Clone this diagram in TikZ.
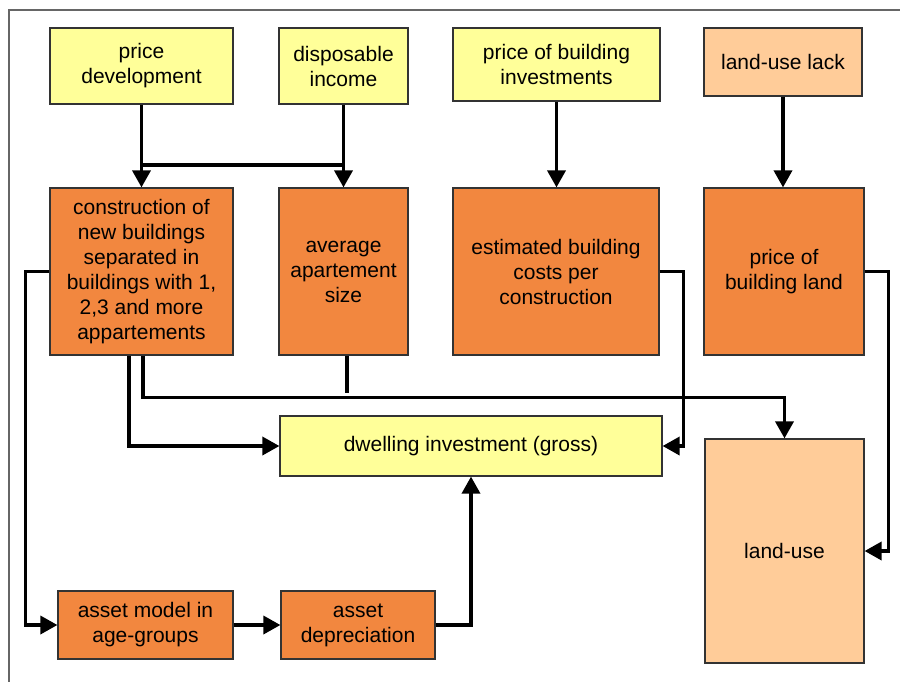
\documentclass[tikz,border=0pt]{standalone}
\usepackage{fontspec}
\setmainfont{Liberation Sans}
\usetikzlibrary{arrows.meta}

\definecolor{inp} {RGB}{255,255,153}
\definecolor{mdl} {RGB}{242,135,63}
\definecolor{lnd} {RGB}{255,204,153}

\tikzset{
  box/.style={draw=black!80,line width=1.2pt,inner sep=0pt,align=center,
    font=\fontsize{21}{25}\selectfont},
  link/.style={line width=3.5pt},
  arr/.style={link,-{Triangle[length=17pt,width=18pt]}}
}

\begin{document}
\begin{tikzpicture}[x=1pt,y=-1pt]

    \useasboundingbox (0,0) rectangle (900,681);
    \draw[black!60,line width=1.5pt] (9,10) rectangle (910,700);

    \node[box,fill=inp,minimum width=183,minimum height=76] (pd) at (141.5,66) {price\\development};
    \node[box,fill=inp,minimum width=129,minimum height=76] (di) at (343.5,66) {disposable\\income};
    \node[box,fill=inp,minimum width=207,minimum height=73] (pbi) at (556.5,64.5) {price of building\\investments};
    \node[box,fill=lnd,minimum width=158,minimum height=68] (lul) at (783,62) {land-use lack};

    \node[box,fill=mdl,minimum width=183,minimum height=167] (cons) at (141.5,271.5) {construction of\\new buildings\\separated in\\buildings with 1,\\2,3 and more\\appartements};
    \node[box,fill=mdl,minimum width=129,minimum height=167] (avg) at (343.5,271.5) {average\\apartement\\size};
    \node[box,fill=mdl,minimum width=206,minimum height=167] (est) at (556,271.5) {estimated building\\costs per\\construction};
    \node[box,fill=mdl,minimum width=160,minimum height=167] (pbl) at (784,271.5) {price of\\building land};

    \node[box,fill=inp,minimum width=382,minimum height=60] (dw) at (471,446) {dwelling investment (gross)};
    \node[box,fill=lnd,minimum width=159,minimum height=224] (lu) at (784.5,551) {land-use};

    \node[box,fill=mdl,minimum width=175,minimum height=68] (am) at (145.5,625) {asset model in\\age-groups};
    \node[box,fill=mdl,minimum width=154,minimum height=68] (ad) at (358,625) {asset\\depreciation};

    \coordinate (j) at (0,165);

    \draw[arr] (pd.south) -- (cons.north);
    \draw[arr] (di.south) -- (avg.north);
    \draw[link] (pd.south |- j) -- ([xshift=-2]di.south |- j);
    \draw[arr] (pbi.south) -- (pbi.south |- est.north);
    \draw[arr] (lul.south) -- (lul.south |- pbl.north);

    \draw[arr] (cons.west) -- ++(-24,0) |- (am.west);
    \draw[arr] ([xshift=-12.5]cons.south) |- (dw.west);
    \draw[arr] ([xshift=1.5]cons.south) -- ++(0,42) -| (lu.north);
    \draw[link] ([xshift=3.5]avg.south) -- ++(0,37);
    \draw[arr] (est.east) -- ++(24,0) |- (dw.east);
    \draw[arr] (pbl.east) -- ++(24,0) |- (lu.east);

    \draw[arr] (am.east) -- (ad.west);
    \draw[arr] (ad.east) -| (dw.south);

\end{tikzpicture}
\end{document}
